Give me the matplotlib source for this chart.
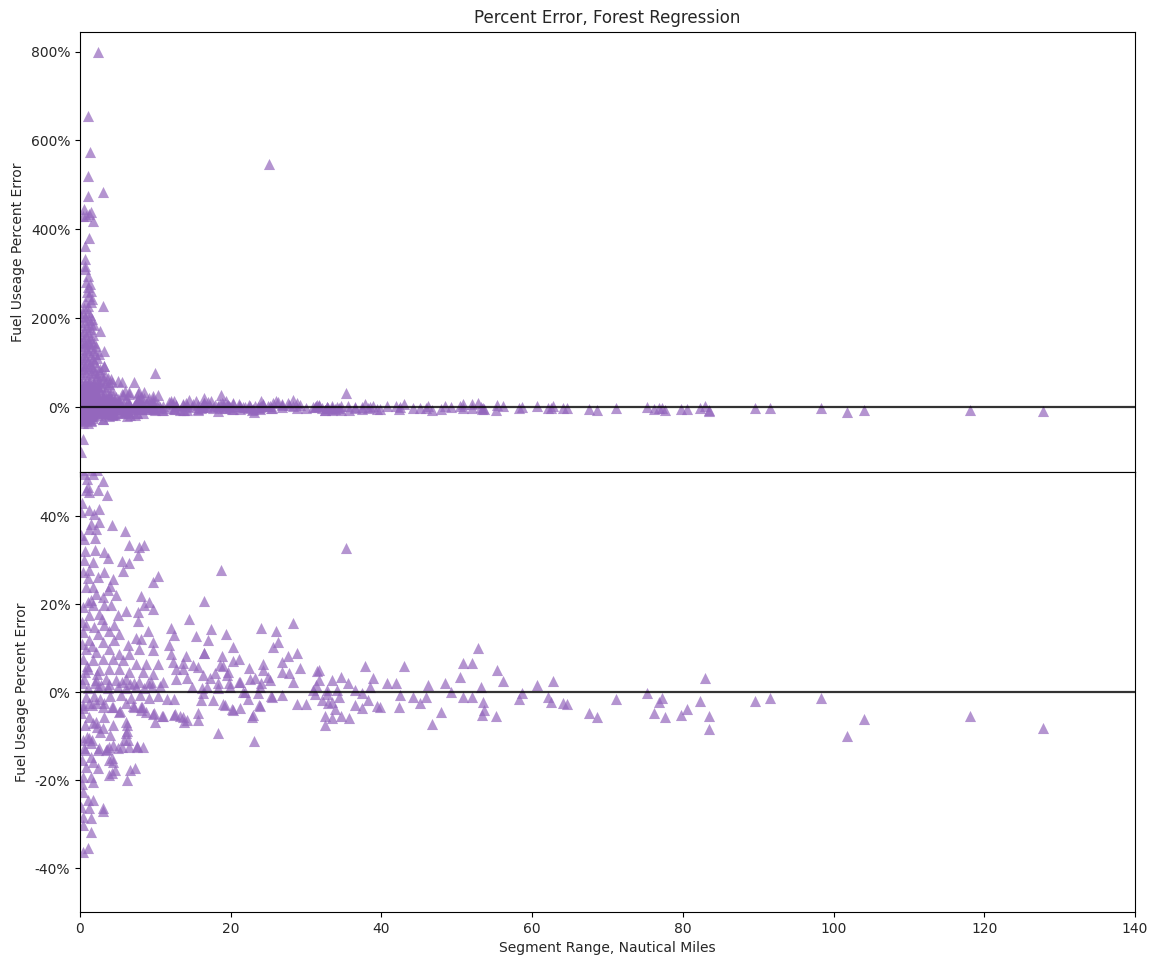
import matplotlib
matplotlib.use("Agg")
import matplotlib.pyplot as plt
from matplotlib.ticker import FuncFormatter

# ---- data: segment range (nautical miles) and percent error ----
# sparse points, longer segments
far_x = [35.3, 18.7, 16.5, 14.5, 15.4, 17.4, 19.4, 17.0, 16.5, 20.3, 18.8, 18.6, 21.1, 20.3, 24.0, 26.0,
         28.3, 26.3, 25.6, 27.6, 28.8, 26.8, 24.3, 29.2, 22.4, 23.2, 24.3, 24.9, 26.8, 27.7, 28.3, 24.0,
         21.2, 19.6, 17.9, 18.3, 19.9, 21.6, 16.8, 16.3, 17.6, 19.2, 20.3, 21.2, 22.3, 23.6, 25.5, 26.8,
         23.9, 23.0, 18.3, 23.1, 28.8, 30.0, 31.4, 31.7, 30.9, 31.2, 32.8, 33.4, 34.6, 35.6, 34.1, 32.1,
         32.9, 33.8, 33.4, 32.5, 34.6, 35.7, 34.4, 36.5, 37.4, 37.8, 38.9, 38.5, 38.2, 36.5, 37.4, 39.4,
         39.8, 40.7, 41.9, 42.5, 43.0, 42.3, 44.2, 45.1, 46.2, 45.9, 46.7, 47.9, 48.4, 49.2, 50.4, 50.8,
         52.0, 52.8, 50.8, 52.0, 53.2, 53.5, 53.3, 55.2, 55.3, 56.1, 53.6, 58.7, 58.3, 60.6, 62.8, 62.1,
         62.5, 64.1, 64.6, 67.5, 68.6, 71.1, 75.2, 77.2, 76.8, 76.2, 77.6, 79.7, 80.5, 82.3, 82.9, 83.5,
         83.5, 89.6, 91.6, 98.3, 101.8, 104.0, 118.1, 127.8,
         14.1, 13.7, 15.0, 15.7, 14.2, 14.9, 16.3, 16.2, 16.1, 13.3, 14.2, 15.7, 15.7, 19.0, 17.2, 19.5,
         19.8, 21.1, 18.3, 19.0, 20.2, 22.8, 23.8, 22.6, 25.2, 23.9, 21.9, 25.3, 31.7, 31.3, 32.8, 33.5,
         32.5, 16.5, 25.1]
far_y = [32.7, 27.7, 20.7, 16.6, 12.7, 14.3, 13.2, 11.8, 8.9, 10.2, 8.2, 6.1, 7.5, 7.0, 14.5, 13.9,
         15.7, 11.4, 10.2, 8.2, 8.9, 6.8, 6.4, 5.5, 5.5, 3.2, 5.0, 3.4, 4.5, 4.3, 2.3, 2.0,
         2.3, 4.5, 4.3, 2.0, 1.1, 0.0, 1.1, -0.2, -1.8, -3.0, -4.1, -3.6, -1.6, -0.2, -1.1, -0.7,
         -3.2, -5.2, -9.3, -11.1, -2.7, -2.7, 4.8, 2.7, 0.5, -0.5, 0.5, 2.7, 3.4, 2.0, 0.5, -1.8,
         -2.5, -3.9, -5.9, -7.5, -5.5, -5.9, -1.1, 0.5, -0.2, 5.9, 3.2, 1.1, -1.8, -3.0, -3.6, -3.2,
         -3.4, 2.0, 2.0, -0.7, 5.9, -3.4, -1.1, -2.5, 1.6, -1.1, -7.3, -4.5, 2.0, 0.0, 3.4, 6.6,
         6.6, 10.0, -1.1, -1.1, 1.1, -2.3, -5.2, -5.5, 5.0, 2.5, -4.1, -0.2, -1.6, 1.6, 2.5, -1.1,
         -2.3, -2.5, -2.7, -4.8, -5.7, -1.6, -0.2, -1.4, -2.3, -4.8, -5.7, -5.2, -3.9, -2.0, 3.2, -5.5,
         -8.4, -2.0, -1.4, -1.4, -10.0, -6.1, -5.5, -8.2,
         8.2, 6.6, 6.1, 5.7, 3.2, 1.1, 3.9, 0.9, -1.8, -5.5, -6.4, -4.8, -6.4, 5.9, 3.2, 3.9,
         2.0, 2.3, 0.9, -2.7, -3.9, -5.7, -3.0, 3.0, 2.7, 1.1, 0.0, -0.9, 5.0, 1.5, -0.5, -2.3,
         -5.5, 8.9, 546.0]

# short segments, positive errors up to 50 %
near_pos_x = [0.5, 1.7, 3.0, 1.1, 0.8, 1.2, 2.4, 3.6, 0.1, 1.2, 2.5, 1.9, 1.5, 2.5, 2.1, 1.2, 4.2, 6.0,
              0.5, 2.0, 0.1, 6.5, 7.8, 8.5, 2.0, 3.2, 7.7, 3.7, 0.5, 1.7, 5.6, 6.5, 5.7, 1.2, 0.4, 3.2,
              1.1, 2.4, 4.4, 10.4, 9.7, 0.8, 1.7, 3.7, 2.1, 3.1, 4.8, 8.1, 0.4, 1.7, 3.2, 4.1, 6.1, 7.7,
              9.7, 8.5, 9.2, 1.2, 2.5, 5.0, 7.7, 0.8, 1.9, 3.2, 4.5, 12.1, 12.5, 0.4, 2.4, 3.8, 5.2, 7.4,
              8.1, 9.0, 1.2, 3.1, 4.5, 9.7, 9.7, 6.4, 11.8, 12.1, 0.8, 2.1, 3.8, 5.2, 6.5, 7.8, 0.4, 1.7,
              3.1, 4.4, 5.7, 7.4, 8.8, 10.4, 12.3, 12.7, 13.7, 1.1, 2.5, 3.8, 5.2, 6.5, 8.4, 9.7, 0.5, 2.1,
              3.5, 4.8, 6.1, 7.8, 9.4, 11.0, 12.7, 1.1, 2.4, 3.7, 5.0, 6.1, 7.4, 8.5, 9.5, 10.6, 0.3, 2.0,
              2.8, 3.8, 5.6, 6.6, 7.2, 9.0, 0.2, 0.6, 1.4, 2.9, 4.0, 0.3, 0.9, 1.6, 2.3, 0.2, 1.0, 0.6,
              0.3, 1.4, 2.2, 0.9]
near_pos_y = [49.5, 49.5, 48.0, 46.6, 45.9, 45.5, 45.9, 44.8, 40.9, 41.4, 41.6, 40.5, 38.2, 38.6, 37.0, 37.0, 38.0, 36.6,
              34.8, 35.0, 35.7, 33.4, 33.0, 33.4, 32.3, 31.8, 31.1, 30.5, 30.0, 29.5, 29.8, 29.3, 27.5, 27.7, 27.3, 27.3,
              25.9, 26.1, 25.7, 26.4, 25.0, 23.9, 23.9, 23.2, 22.3, 21.6, 22.0, 21.8, 19.3, 19.8, 19.8, 19.8, 18.4, 18.2,
              18.9, 19.8, 20.5, 17.5, 17.7, 17.5, 16.1, 15.2, 14.8, 15.2, 15.2, 14.5, 13.0, 13.6, 13.2, 13.9, 13.2, 12.3,
              12.0, 13.9, 11.8, 11.4, 11.8, 11.4, 9.5, 10.7, 10.7, 8.6, 9.8, 9.1, 9.8, 8.6, 8.6, 9.8, 7.5, 7.3,
              7.5, 7.5, 7.3, 6.4, 6.4, 6.4, 6.8, 5.2, 5.2, 5.2, 5.0, 5.2, 5.2, 4.5, 4.5, 4.1, 3.0, 2.7,
              3.0, 2.7, 3.0, 2.3, 2.3, 2.3, 3.0, 1.0, 1.2, 0.8, 1.1, 0.8, 1.1, 0.9, 1.1, 1.3, 2.1, 2.0,
              1.6, 1.8, 2.2, 1.9, 2.0, 2.0, 43.0, 32.0, 21.0, 16.5, 24.0, 11.0, 6.0, 10.5, 4.0, 16.0, 20.5, 4.5,
              50.5, 50.5, 50.5, 48.5]

# short segments, negative errors
near_neg_x = [1.2, 0.4, 2.1, 3.2, 4.4, 5.2, 6.1, 7.2, 8.1, 8.8, 9.8, 11.0, 12.5, 12.5, 13.7, 13.8,
              0.1, 1.2, 2.1, 3.2, 6.1, 8.1, 6.1, 4.4, 3.1, 1.2, 0.4, 1.5, 4.0, 3.8, 5.8, 6.5, 7.5, 5.0,
              3.5, 2.5, 0.5, 1.5, 1.7, 3.8, 4.4, 4.6, 6.6, 0.8, 2.4, 3.8, 6.3, 1.5, 1.7, 0.4, 0.4, 1.1,
              1.7, 0.1, 1.2, 3.1, 0.4, 1.5, 0.4, 1.5, 1.1, 0.4, 0.8, 1.8, 2.7, 4.0, 5.5, 6.8, 7.9, 9.2,
              10.3, 11.5, 0.4, 1.6, 3.1, 4.2, 5.3, 7.0, 8.2, 9.7, 10.9, 12.6, 1.7, 6.2, 6.2, 10.0, 0.9,
              1.6, 4.4, 5.6, 7.6, 8.4, 6.4, 3.6, 2.4, 0.7, 4.2, 7.3, 4.2, 2.3, 0.2, 0.6, 2.6, 0.3]
near_neg_y = [-2.5, -3.6, -2.5, -2.5, -3.4, -4.5, -2.5, -3.4, -3.4, -4.5, -4.8, -5.5, -1.6, -5.2, -5.7, -6.8,
              -4.8, -5.7, -6.8, -5.7, -6.8, -4.1, -9.3, -7.5, -8.2, -10.5, -10.9, -11.6, -9.8, -12.5, -10.9, -12.5, -12.5, -12.7,
              -13.2, -12.7, -12.7, -14.8, -15.9, -15.5, -15.9, -17.7, -17.7, -17.0, -17.3, -18.9, -20.0, -19.3, -20.5, -19.3, -22.7, -24.5,
              -24.5, -26.1, -26.4, -26.4, -28.4, -28.6, -30.2, -31.8, -35.5, -36.4, -1.2, -0.8, -1.5, -1.0, -0.6, -1.3, -0.7, -1.4,
              -0.9, -1.6, -3.0, -3.0, -3.4, -3.4, -4.3, -3.2, -3.4, -5.0, -5.5, -5.0, -7.0, -7.5, -8.9, -6.8, -10.2,
              -10.9, -12.0, -12.5, -12.3, -12.5, -10.9, -13.0, -13.2, -13.2, -18.4, -17.3, -15.0, -8.0, -21.0, -7.5, -9.0, -15.5]

# large errors, visible only in the upper panel
big_x = [0.1, 0.3, 0.6, 0.9, 1.2, 1.5, 1.8, 2.1, 2.4, 2.7, 3.0, 3.4, 3.8, 4.3, 5.0, 5.6,
         0.2, 0.5, 0.8, 1.1, 1.4, 1.7, 2.0, 2.3, 2.6, 2.9, 3.3, 3.7, 4.1,
         0.1, 0.4, 0.7, 1.0, 1.3, 1.6, 1.9, 2.2, 2.6, 3.2,
         0.2, 0.5, 0.8, 1.1, 1.4, 1.7, 2.0, 2.3, 2.5, 0.3, 0.6, 0.9, 1.2, 1.5, 1.8, 2.1, 0.1, 0.4, 0.7, 1.0,
         1.3, 1.6, 1.9, 3.2, 3.2, 10.0, 7.2, 2.7,
         0.2, 0.5, 0.8, 1.1, 1.4, 1.7, 0.3, 0.6, 0.9, 1.2, 1.5, 1.8, 0.1, 0.4, 0.7, 1.0, 1.3, 1.6, 0.5, 1.1,
         1.4, 0.7, 1.6, 1.2, 0.9, 1.5, 1.0, 1.3, 0.8, 1.1, 3.0, 0.6, 0.7, 0.7,
         0.7, 1.2, 0.4, 0.8, 1.2, 1.5, 0.5, 1.7, 1.1, 3.0, 1.1, 1.3, 1.1, 2.4,
         0.1, 0.4, 3.0]
big_y = [55, 68, 52, 61, 57, 66, 54, 63, 58, 55, 62, 57, 53, 56, 58, 57,
         78, 85, 74, 88, 79, 83, 76, 72, 80, 70, 73, 66, 64,
         95, 99, 92, 104, 97, 93, 101, 90, 86, 92,
         112, 118, 109, 123, 115, 108, 119, 111, 119, 131, 137, 128, 141, 134, 129, 138, 146, 151, 145, 149,
         156, 147, 144, 126, 92, 76, 56, 171,
         165, 172, 161, 168, 176, 163, 185, 192, 181, 196, 188, 184, 205, 211, 202, 215, 207, 199, 222, 228,
         236, 236, 244, 250, 258, 262, 270, 276, 282, 295, 227, 311, 317, 333,
         362, 380, 429, 429, 434, 440, 445, 418, 474, 483, 519, 575, 654, 800,
         -101, -72, -27]

x_all = far_x + near_pos_x + near_neg_x + big_x
y_all = far_y + near_pos_y + near_neg_y + big_y

X_LIM = (0, 140)
TOP_YLIM = (-146, 845)
TOP_TICKS = [0, 200, 400, 600, 800]
BOT_YLIM = (-50, 50)
BOT_TICKS = [-40, -20, 0, 20, 40]

# ---- figure ----
W, H, DPI = 1153, 961, 100
fig = plt.figure(figsize=(W / DPI, H / DPI), dpi=DPI)
left = 80 / W
width = (1135 - 80) / W
ax1 = fig.add_axes([left, 1 - 472 / H, width, (472 - 31.5) / H])
ax2 = fig.add_axes([left, 1 - 912 / H, width, (912 - 472) / H], sharex=ax1)

color = '#9467bd'
text_color = '#262626'
pct = FuncFormatter(lambda v, p: '{:.0f}%'.format(v))

for ax, ylim, ticks in ((ax1, TOP_YLIM, TOP_TICKS), (ax2, BOT_YLIM, BOT_TICKS)):
    ax.scatter(x_all, y_all, marker='^', s=64, color=color, alpha=0.7, linewidths=0)
    ax.axhline(0, color='black', linewidth=1.6, alpha=0.8)
    ax.set_ylim(*ylim)
    ax.set_yticks(ticks)
    ax.yaxis.set_major_formatter(pct)
    ax.set_ylabel('Fuel Useage Percent Error', color=text_color)
    ax.tick_params(labelcolor=text_color)

ax1.set_xlim(*X_LIM)
ax1.tick_params(labelbottom=False)
ax1.set_title('Percent Error, Forest Regression', fontsize=12, color=text_color)
ax2.set_xlabel('Segment Range, Nautical Miles', color=text_color)

fig.savefig('out.png', dpi=DPI)
